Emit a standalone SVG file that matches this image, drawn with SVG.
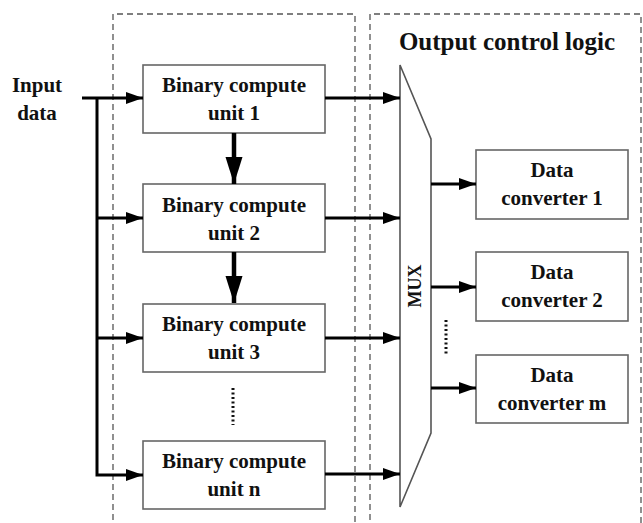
<svg xmlns="http://www.w3.org/2000/svg" width="643" height="523" viewBox="0 0 643 523">
<style>
.t{font-family:"Liberation Serif","Times New Roman",serif;font-weight:bold;font-size:21px;fill:#111;text-anchor:middle}
.box{fill:#fff;stroke:#666;stroke-width:1.6}
.dash{fill:none;stroke:#555;stroke-width:1.3;stroke-dasharray:6 4}
.ln{fill:none;stroke:#000;stroke-width:3}
.dn{fill:none;stroke:#000;stroke-width:4.5}
.dots{fill:none;stroke:#111;stroke-width:3;stroke-dasharray:2 2.5}
</style>
<defs>
<marker id="ah" markerWidth="18" markerHeight="12" refX="17" refY="6" orient="auto" markerUnits="userSpaceOnUse">
<path d="M0,0 L17,6 L0,12 Z" fill="#000"/>
</marker>
<marker id="dh" markerWidth="28" markerHeight="18" refX="27" refY="8.5" orient="auto" markerUnits="userSpaceOnUse">
<path d="M0,0 L27,8.5 L0,17 Z" fill="#000"/>
</marker>
</defs>
<rect width="643" height="523" fill="#fff"/>
<g id="frames">
<path class="dash" d="M113,530 L113,14 L355,14 L355,530"/>
<path class="dash" d="M370,530 L370,14 L641,14 L641,530"/>
</g>
<g id="input"><text class="t" x="37" y="92">Input</text><text class="t" x="37" y="120">data</text></g>
<g id="title"><text class="t" x="507" y="50" style="font-size:25px">Output control logic</text></g>
<g id="bcu1"><rect class="box" x="143" y="65" width="182" height="68"/><text class="t" x="234" y="92">Binary compute</text><text class="t" x="234" y="120">unit 1</text></g>
<g id="bcu2"><rect class="box" x="143" y="184" width="182" height="68"/><text class="t" x="234" y="212">Binary compute</text><text class="t" x="234" y="240">unit 2</text></g>
<g id="bcu3"><rect class="box" x="143" y="304" width="182" height="68"/><text class="t" x="234" y="331">Binary compute</text><text class="t" x="234" y="359">unit 3</text></g>
<g id="bcun"><rect class="box" x="143" y="441" width="182" height="68"/><text class="t" x="234" y="468">Binary compute</text><text class="t" x="234" y="496">unit n</text></g>
<g id="mux"><path d="M400,65 L431,139 L431,433 L400,507 Z" fill="#fff" stroke="#555" stroke-width="1.6"/><text class="t" transform="translate(421,286) rotate(-90)" style="font-size:18px">MUX</text></g>
<g id="dc1"><rect class="box" x="476" y="150" width="152" height="69"/><text class="t" x="552" y="177">Data</text><text class="t" x="552" y="205">converter 1</text></g>
<g id="dc2"><rect class="box" x="476" y="252" width="152" height="69"/><text class="t" x="552" y="279">Data</text><text class="t" x="552" y="307">converter 2</text></g>
<g id="dcm"><rect class="box" x="476" y="355" width="152" height="68"/><text class="t" x="552" y="382">Data</text><text class="t" x="552" y="410">converter m</text></g>
<g id="connectors">
<path class="ln" d="M82,98 L143,98" marker-end="url(#ah)"/>
<path class="ln" d="M97,98 L97,475 L143,475" marker-end="url(#ah)"/>
<path class="ln" d="M97,218 L143,218" marker-end="url(#ah)"/>
<path class="ln" d="M97,338 L143,338" marker-end="url(#ah)"/>
<path class="dn" d="M234,133 L234,184" marker-end="url(#dh)"/>
<path class="dn" d="M234,252 L234,303" marker-end="url(#dh)"/>
<path class="ln" d="M325,98 L400,98" marker-end="url(#ah)"/>
<path class="ln" d="M325,218 L400,218" marker-end="url(#ah)"/>
<path class="ln" d="M325,338 L400,338" marker-end="url(#ah)"/>
<path class="ln" d="M325,474 L400,474" marker-end="url(#ah)"/>
<path class="ln" d="M431,184 L476,184" marker-end="url(#ah)"/>
<path class="ln" d="M431,287 L476,287" marker-end="url(#ah)"/>
<path class="ln" d="M431,388 L476,388" marker-end="url(#ah)"/>
<path class="dots" d="M233,388 L233,425"/>
<path class="dots" d="M446,320 L446,356"/>
</g>
</svg>
